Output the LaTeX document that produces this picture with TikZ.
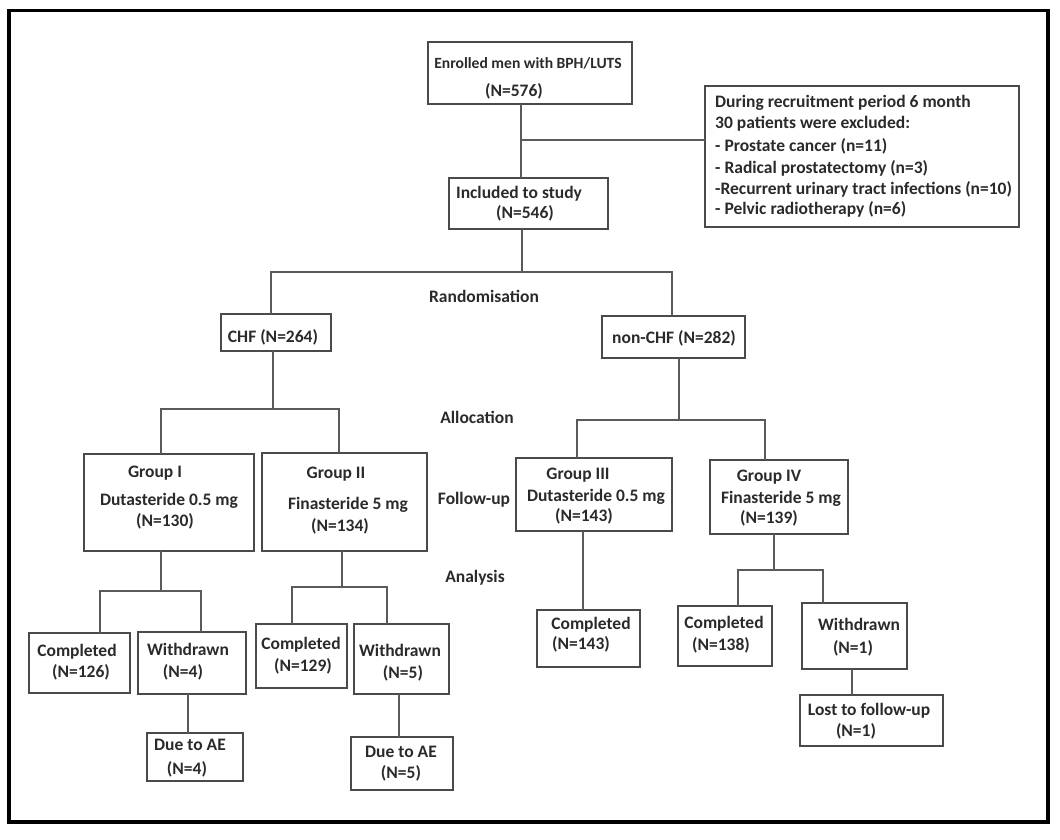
\documentclass[tikz,border=0pt]{standalone}
\usepackage{fontspec}
\setmainfont{Carlito}
\definecolor{boxgray}{HTML}{4A4A4A}
\definecolor{linegray}{HTML}{5A5A5A}
\definecolor{txt}{HTML}{2A2A2A}
\begin{document}
\begin{tikzpicture}[x=1pt,y=-1pt,
  box/.style={draw=boxgray, line width=1.3pt, inner sep=0pt, outer sep=0pt},
  lbl/.style={anchor=base, inner sep=0pt, text=txt, font=\bfseries\fontsize{17.5}{21}\selectfont},
  lbll/.style={lbl, anchor=base west},
  conn/.style={draw=linegray, line width=1.2pt}]
\useasboundingbox (0,0) rectangle (1060,840);
\draw[line width=3.6pt, black] (8.7,10.7) rectangle (1048,822);

% boxes
\node[box, minimum width=204pt, minimum height=62pt] (enr) at (530,73) {};
\node[box, minimum width=314pt, minimum height=141pt] (excl) at (862,156.5) {};
\node[box, minimum width=159pt, minimum height=51pt] (inc) at (528.5,203.5) {};
\node[box, minimum width=110pt, minimum height=37pt] (chf) at (276,332.5) {};
\node[box, minimum width=143pt, minimum height=42pt] (nchf) at (673.5,337) {};
\node[box, minimum width=170pt, minimum height=97pt] (g1) at (169,502.5) {};
\node[box, minimum width=165pt, minimum height=98pt] (g2) at (344.5,502) {};
\node[box, minimum width=156pt, minimum height=73pt] (g3) at (594,494.5) {};
\node[box, minimum width=138pt, minimum height=74pt] (g4) at (779,497) {};
\node[box, minimum width=101pt, minimum height=60pt] (c1) at (79.5,663) {};
\node[box, minimum width=108pt, minimum height=62pt] (w1) at (192,663) {};
\node[box, minimum width=96pt, minimum height=48pt] (d1) at (195,757) {};
\node[box, minimum width=91pt, minimum height=64pt] (c2) at (301.5,656) {};
\node[box, minimum width=95pt, minimum height=70pt] (w2) at (401.5,659) {};
\node[box, minimum width=102pt, minimum height=53pt] (d2) at (402,763.5) {};
\node[box, minimum width=103pt, minimum height=57pt] (c3) at (588.5,638.5) {};
\node[box, minimum width=94pt, minimum height=60pt] (c4) at (725,636) {};
\node[box, minimum width=105pt, minimum height=66pt] (w4) at (854.5,636) {};
\node[box, minimum width=143pt, minimum height=51pt] (l4) at (871.5,720.5) {};

% junction coordinates
\coordinate (ja) at (521,140);
\coordinate (rj) at (522,272);
\coordinate (rl) at (271,272);
\coordinate (rr) at (672,272);
\coordinate (aj) at (273,409);
\coordinate (al) at (161,409);
\coordinate (ar) at (339,409);
\coordinate (bj) at (679,420);
\coordinate (bl) at (577,420);
\coordinate (br) at (765,420);
\coordinate (cj) at (161,591);
\coordinate (cl) at (100,591);
\coordinate (cr) at (201,591);
\coordinate (dx) at (188,700);
\coordinate (ej) at (342,587);
\coordinate (el) at (292,587);
\coordinate (er) at (387,587);
\coordinate (fx) at (399,700);
\coordinate (gx) at (583,570);
\coordinate (hj) at (774,570);
\coordinate (hl) at (738,570);
\coordinate (hr) at (823,570);
\coordinate (ix) at (852,680);

% connectors
\draw[conn] (enr.south -| ja) -- (inc.north -| ja);
\draw[conn] (ja) -- (ja -| excl.west);
\draw[conn] (inc.south -| rj) -- (rj);
\draw[conn] (chf.north -| rl) -- (rl) -- (rr) -- (nchf.north -| rr);
\draw[conn] (chf.south -| aj) -- (aj);
\draw[conn] (g1.north -| al) -- (al) -- (ar) -- (g2.north -| ar);
\draw[conn] (nchf.south -| bj) -- (bj);
\draw[conn] (g3.north -| bl) -- (bl) -- (br) -- (g4.north -| br);
\draw[conn] (g1.south -| cj) -- (cj);
\draw[conn] (c1.north -| cl) -- (cl) -- (cr) -- (w1.north -| cr);
\draw[conn] (w1.south -| dx) -- (d1.north -| dx);
\draw[conn] (g2.south -| ej) -- (ej);
\draw[conn] (c2.north -| el) -- (el) -- (er) -- (w2.north -| er);
\draw[conn] (w2.south -| fx) -- (d2.north -| fx);
\draw[conn] (g3.south -| gx) -- (c3.north -| gx);
\draw[conn] (g4.south -| hj) -- (hj);
\draw[conn] (c4.north -| hl) -- (hl) -- (hr) -- (w4.north -| hr);
\draw[conn] (w4.south -| ix) -- (l4.north -| ix);

% texts
\node[lbl, font=\bfseries\fontsize{15.6}{19}\selectfont] (t1a) at (528,68.5) {Enrolled men with BPH/LUTS};
\node[lbl] (t1b) at (514,97) {(N=576)};
\node[lbll] (x1) at (715,108) {During recruitment period 6 month};
\node[lbll] (x2) at (715,129) {30 patients were excluded:};
\node[lbll] (x3) at (715,151) {- Prostate cancer (n=11)};
\node[lbll] (x4) at (715,173) {- Radical prostatectomy (n=3)};
\node[lbll] (x5) at (715,194) {-Recurrent urinary tract infections (n=10)};
\node[lbll] (x6) at (715,214) {- Pelvic radiotherapy (n=6)};
\node[lbl] (t2a) at (519,198) {Included to study};
\node[lbl] (t2b) at (525,218) {(N=546)};
\node[lbl] (s1) at (484,302) {Randomisation};
\node[lbl] (t3) at (273,342) {CHF (N=264)};
\node[lbl] (t4) at (674,343) {non-CHF (N=282)};
\node[lbl] (s2) at (477,423) {Allocation};
\node[lbl] (g1a) at (155,477) {Group I};
\node[lbl] (g1b) at (169,505) {Dutasteride 0.5 mg};
\node[lbl] (g1c) at (165,526) {(N=130)};
\node[lbl] (g2a) at (336,478) {Group II};
\node[lbl] (g2b) at (348,509) {Finasteride 5 mg};
\node[lbl] (g2c) at (340,531) {(N=134)};
\node[lbl] (s3) at (474,504) {Follow-up};
\node[lbl] (g3a) at (578,479) {Group III};
\node[lbl] (g3b) at (596,501) {Dutasteride 0.5 mg};
\node[lbl] (g3c) at (584,521) {(N=143)};
\node[lbl] (g4a) at (769,481) {Group IV};
\node[lbl] (g4b) at (781,503) {Finasteride 5 mg};
\node[lbl] (g4c) at (769,523) {(N=139)};
\node[lbl] (s4) at (475,582) {Analysis};
\node[lbl] (c1a) at (77,656) {Completed};
\node[lbl] (c1b) at (81,677) {(N=126)};
\node[lbl] (w1a) at (188,655) {Withdrawn};
\node[lbl] (w1b) at (183,677) {(N=4)};
\node[lbl] (d1a) at (190,750) {Due to AE};
\node[lbl] (d1b) at (187,774) {(N=4)};
\node[lbl] (c2a) at (301,649) {Completed};
\node[lbl] (c2b) at (303,671) {(N=129)};
\node[lbl] (w2a) at (400,656) {Withdrawn};
\node[lbl] (w2b) at (403,678) {(N=5)};
\node[lbl] (d2a) at (401,757) {Due to AE};
\node[lbl] (d2b) at (401,778) {(N=5)};
\node[lbl] (c3a) at (591,629) {Completed};
\node[lbl] (c3b) at (581,649) {(N=143)};
\node[lbl] (c4a) at (724,628) {Completed};
\node[lbl] (c4b) at (721,650) {(N=138)};
\node[lbl] (w4a) at (859,630) {Withdrawn};
\node[lbl] (w4b) at (853,653) {(N=1)};
\node[lbl] (l4a) at (869,715) {Lost to follow-up};
\node[lbl] (l4b) at (856,736) {(N=1)};
\end{tikzpicture}
\end{document}
